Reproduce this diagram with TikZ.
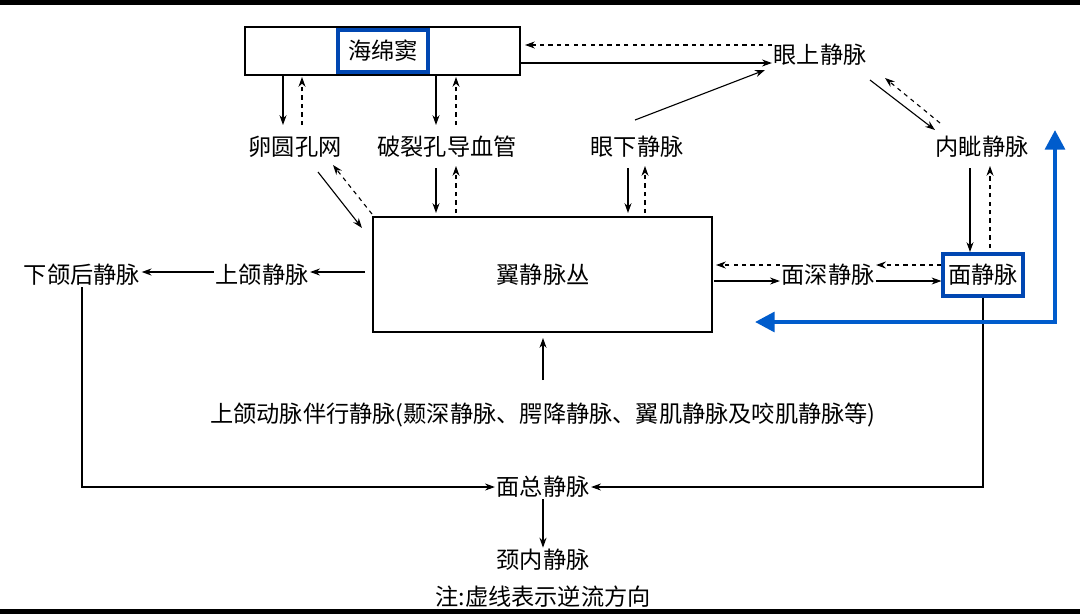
\documentclass[tikz,border=0pt]{standalone}
\usepackage{fontspec}
\newfontfamily\cjk{Noto Sans CJK SC}
\usetikzlibrary{arrows.meta}

\begin{document}
\begin{tikzpicture}[x=0.025cm,y=-0.025cm,
    lbl/.style={font=\cjk\fontsize{16.5}{18}\selectfont, inner sep=1pt},
    solid arrow/.style={-{Stealth[length=7pt,width=5pt]}, thick},
    dashed arrow/.style={-{Stealth[length=7pt,width=5pt]}, thick, dashed},
    bluebox/.style={draw=blue!60!cyan!70!black, line width=2.2pt},
    bigblue/.style={{Triangle[length=14pt,width=14pt]}-{Triangle[length=14pt,width=14pt]}, line width=3pt, draw=blue!55!cyan!80!black}
]
    \useasboundingbox (0,0) rectangle (1080,614);
    \fill[white] (0,0) rectangle (1080,614);
    \fill[black] (0,0) rectangle (1080,5);
    \fill[black] (0,609) rectangle (1080,614);
    % boxes
    \draw[thick] (245,27) rectangle (520,75);
    \node[lbl, bluebox, minimum width=2.25cm, minimum height=1.05cm] (sinus) at (383,51) {海绵窦};
    \draw[thick] (373,217) rectangle (712,332);
    \node[lbl] (plexus) at (543,275) {翼静脉丛};
    \node[lbl, bluebox, minimum width=2cm, minimum height=1.05cm] (facial) at (983,275) {面静脉};
    % labels
    \node[lbl] (supoph) at (820,55) {眼上静脉};
    \node[lbl] (ovale) at (295,147) {卵圆孔网};
    \node[lbl] (lacer) at (447,147) {破裂孔导血管};
    \node[lbl] (infoph) at (637,147) {眼下静脉};
    \node[lbl] (angular) at (982,147) {内眦静脉};
    \node[lbl] (deepfac) at (828,275) {面深静脉};
    \node[lbl] (maxill) at (262,275) {上颌静脉};
    \node[lbl] (retro) at (82,275) {下颌后静脉};
    \node[lbl] (accomp) at (543,415) {上颌动脉伴行静脉(颞深静脉、腭降静脉、翼肌静脉及咬肌静脉等)};
    \node[lbl] (common) at (543,487) {面总静脉};
    \node[lbl] (jugular) at (543,560) {颈内静脉};
    \node[lbl] (note) at (543,597) {注:虚线表示逆流方向};
    % connectors
    \draw[solid arrow] (520,63) -- (supoph.west |- 0,63);
    \draw[dashed arrow] (supoph.west |- 0,45) -- (525,45);
    \draw[solid arrow] (283,75) -- (283,125);
    \draw[dashed arrow] (302,125) -- (302,77);
    \draw[solid arrow] (436,75) -- (436,125);
    \draw[dashed arrow] (456,125) -- (456,77);
    \draw[solid arrow] (635,120) -- (765,70);
    \draw[solid arrow] (870,80) -- (935,130);
    \draw[dashed arrow] (940,123) -- (885,78);
    \draw[solid arrow] (970,168) -- (970,252);
    \draw[dashed arrow] (990,248) -- (990,166);
    \draw[solid arrow] (318,172) -- (362,228);
    \draw[dashed arrow] (372,214) -- (333,165);
    \draw[solid arrow] (436,168) -- (436,213);
    \draw[dashed arrow] (456,213) -- (456,166);
    \draw[solid arrow] (628,168) -- (628,213);
    \draw[dashed arrow] (645,213) -- (645,166);
    \draw[solid arrow] (714,281) -- (deepfac.west |- 0,281);
    \draw[dashed arrow] (deepfac.west |- 0,265) -- (716,265);
    \draw[solid arrow] (deepfac.east |- 0,281) -- (facial.west |- 0,281);
    \draw[dashed arrow] (facial.west |- 0,265) -- (deepfac.east |- 0,265);
    \draw[solid arrow] (365,272) -- (maxill.east |- 0,272);
    \draw[solid arrow] (maxill.west |- 0,272) -- (retro.east |- 0,272);
    \draw[solid arrow] (accomp.north |- 0,380) -- (543,338);
    \draw[solid arrow] (retro.south) -- (82,487) -- (common.west);
    \draw[solid arrow] (facial.south) -- (983,487) -- (common.east);
    \draw[solid arrow] (common.south) -- (jugular.north);
    \draw[bigblue] (755,322) -- (1055,322) -- (1055,130);
\end{tikzpicture}
\end{document}
